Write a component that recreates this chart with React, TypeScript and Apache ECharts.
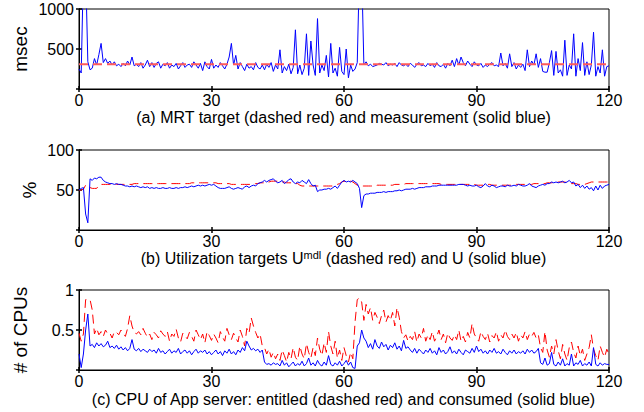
import React, { useEffect, useRef } from "react";
import * as echarts from "echarts";

// time axis: samples every 0.5 units from 0 to 120
const timeStep = 0.5;

// (a) MRT
const mrtTargetX = [0, 120];
const mrtTarget = [310, 310];
const mrtMeasured = [
  250, 200, 1500, 1500, 340, 240, 260, 380, 300, 430,
  570, 330, 380, 320, 350, 300, 340, 290, 310, 280,
  320, 290, 350, 300, 400, 290, 310, 280, 330, 260,
  300, 360, 280, 330, 270, 320, 340, 260, 310, 290,
  330, 260, 300, 280, 320, 250, 290, 330, 270, 300,
  310, 270, 340, 300, 260, 320, 230, 340, 280, 250,
  370, 260, 300, 270, 330, 290, 250, 310, 400, 570,
  300, 420, 250, 330, 280, 230, 310, 260, 280, 240,
  330, 270, 250, 300, 240, 310, 270, 330, 220, 300,
  250, 490, 200, 280, 230, 310, 190, 270, 740, 190,
  300, 180, 260, 690, 170, 600, 300, 170, 880, 200,
  300, 230, 420, 150, 570, 200, 260, 160, 520, 220,
  180, 500, 140, 300, 220, 250, 330, 1500, 1500, 300,
  340, 290, 310, 280, 290, 300, 320, 310, 300, 330,
  290, 310, 300, 320, 280, 330, 300, 290, 310, 280,
  320, 300, 270, 310, 330, 290, 300, 280, 320, 290,
  310, 270, 330, 290, 280, 310, 260, 320, 290, 360,
  280, 380, 300, 400, 330, 290, 350, 310, 280, 340,
  300, 290, 320, 270, 300, 280, 310, 330, 290, 300,
  280, 450, 290, 320, 260, 440, 280, 330, 250, 300,
  270, 310, 230, 490, 280, 350, 300, 440, 270, 380,
  220, 210, 210, 330, 480, 170, 470, 200, 240, 160,
  610, 170, 300, 250, 690, 160, 380, 230, 580, 170,
  340, 180, 300, 710, 160, 280, 200, 490, 160, 280,
  290,
];

// (b) Utilization
const utilTarget = [
  50, 50, 51, 56, 56, 53, 52, 52, 52, 56,
  57, 57, 57, 57, 57, 57, 57, 57, 57, 57,
  57, 57, 57, 57, 57, 58, 58, 58, 58, 58,
  58, 58, 58, 58, 58, 58, 58, 58, 58, 58,
  58, 58, 58, 58, 58, 58, 58, 58, 58, 58,
  58, 59, 59, 59, 59, 59, 59, 59, 59, 59,
  59, 59, 59, 58, 58, 58, 58, 58, 58, 57,
  57, 57, 57, 57, 57, 57, 57, 57, 57, 57,
  58, 58, 59, 59, 59, 60, 60, 61, 61, 61,
  61, 60, 60, 60, 59, 59, 59, 58, 58, 58,
  56, 55, 55, 55, 55, 55, 55, 55, 55, 55,
  55, 55, 55, 55, 55, 55, 56, 57, 58, 60,
  61, 61, 61, 61, 60, 58, 56, 55, 55, 55,
  55, 55, 55, 55, 55, 56, 56, 56, 56, 56,
  56, 56, 56, 57, 57, 57, 57, 57, 58, 58,
  58, 58, 58, 58, 58, 58, 58, 58, 58, 58,
  58, 58, 58, 58, 57, 57, 57, 57, 57, 57,
  57, 57, 57, 57, 57, 57, 57, 57, 57, 57,
  56, 56, 56, 56, 57, 57, 57, 56, 56, 56,
  56, 56, 56, 56, 56, 56, 56, 56, 57, 57,
  57, 57, 57, 57, 57, 57, 58, 58, 58, 58,
  58, 58, 59, 59, 59, 59, 59, 60, 60, 60,
  60, 59, 59, 58, 58, 58, 57, 57, 57, 57,
  58, 59, 60, 60, 60, 60, 60, 60, 60, 60,
  60,
];
const utilMeasured = [
  50, 52, 53, 20, 9, 64, 62, 65, 64, 66,
  66, 62, 60, 59, 58, 58, 57, 58, 57, 57,
  56, 55, 55, 54, 55, 54, 55, 54, 53, 54,
  53, 54, 52, 53, 52, 53, 52, 52, 53, 52,
  52, 53, 52, 52, 53, 52, 53, 53, 54, 53,
  54, 55, 54, 55, 56, 55, 56, 55, 56, 57,
  56, 57, 55, 53, 52, 52, 52, 53, 54, 52,
  51, 52, 53, 52, 51, 54, 55, 53, 55, 56,
  55, 58, 59, 60, 62, 60, 62, 63, 64, 61,
  59, 60, 62, 58, 60, 63, 64, 60, 58, 60,
  59, 62, 60, 58, 63, 58, 55, 56, 48, 50,
  50, 51, 51, 52, 51, 53, 55, 52, 56, 60,
  62, 60, 61, 60, 62, 60, 58, 52, 28, 43,
  45, 45, 46, 46, 46, 47, 47, 47, 48, 47,
  48, 48, 48, 49, 49, 50, 49, 50, 51, 51,
  51, 52, 51, 52, 53, 53, 53, 54, 54, 54,
  55, 55, 55, 56, 56, 56, 56, 56, 56, 56,
  56, 56, 57, 57, 57, 56, 55, 56, 55, 55,
  56, 54, 53, 55, 58, 55, 54, 56, 55, 53,
  54, 55, 55, 54, 56, 55, 55, 56, 55, 57,
  56, 55, 55, 56, 58, 55, 54, 53, 55, 56,
  57, 56, 58, 58, 60, 59, 60, 59, 60, 61,
  59, 60, 62, 59, 60, 55, 57, 53, 56, 52,
  55, 51, 53, 49, 55, 50, 56, 52, 55, 56,
  57,
];

// (c) CPU
const cpuEntitled = [
  0.46, 0.36, 0.45, 0.88, 0.88, 0.88, 0.75, 0.45, 0.52, 0.44,
  0.48, 0.42, 0.50, 0.45, 0.46, 0.40, 0.48, 0.47, 0.44, 0.50,
  0.46, 0.42, 0.52, 0.68, 0.55, 0.47, 0.45, 0.48, 0.44, 0.52,
  0.46, 0.41, 0.45, 0.38, 0.47, 0.44, 0.40, 0.49, 0.45, 0.42,
  0.48, 0.36, 0.45, 0.42, 0.51, 0.40, 0.35, 0.46, 0.43, 0.39,
  0.47, 0.42, 0.36, 0.50, 0.44, 0.38, 0.45, 0.34, 0.48, 0.43,
  0.37, 0.45, 0.40, 0.34, 0.48, 0.41, 0.36, 0.52, 0.44, 0.38,
  0.46, 0.40, 0.35, 0.50, 0.42, 0.30, 0.52, 0.46, 0.65, 0.55,
  0.47, 0.40, 0.45, 0.30, 0.28, 0.20, 0.26, 0.16, 0.22, 0.14,
  0.20, 0.12, 0.25, 0.18, 0.10, 0.22, 0.14, 0.28, 0.16, 0.12,
  0.30, 0.20, 0.14, 0.33, 0.22, 0.15, 0.28, 0.18, 0.40, 0.26,
  0.18, 0.34, 0.22, 0.48, 0.30, 0.20, 0.36, 0.15, 0.25, 0.12,
  0.28, 0.18, 0.10, 0.22, 0.14, 0.60, 0.88, 0.90, 0.85, 0.62,
  0.82, 0.70, 0.78, 0.62, 0.72, 0.66, 0.58, 0.68, 0.75, 0.60,
  0.68, 0.62, 0.72, 0.55, 0.78, 0.66, 0.48, 0.40, 0.44, 0.36,
  0.42, 0.38, 0.48, 0.35, 0.45, 0.40, 0.52, 0.36, 0.44, 0.38,
  0.48, 0.36, 0.42, 0.50, 0.38, 0.45, 0.34, 0.46, 0.40, 0.37,
  0.44, 0.38, 0.50, 0.36, 0.42, 0.35, 0.47, 0.40, 0.58, 0.45,
  0.40, 0.36, 0.48, 0.42, 0.38, 0.46, 0.35, 0.43, 0.40, 0.48,
  0.36, 0.44, 0.40, 0.50, 0.42, 0.38, 0.45, 0.40, 0.47, 0.36,
  0.44, 0.40, 0.48, 0.38, 0.45, 0.42, 0.47, 0.40, 0.44, 0.28,
  0.22, 0.48, 0.25, 0.16, 0.30, 0.20, 0.38, 0.24, 0.14, 0.32,
  0.20, 0.12, 0.28, 0.35, 0.22, 0.15, 0.30, 0.18, 0.26, 0.12,
  0.20, 0.28, 0.44, 0.26, 0.18, 0.12, 0.30, 0.22, 0.16, 0.26,
  0.20,
];
const cpuConsumed = [
  0.20, 0.03, 0.20, 0.50, 0.70, 0.30, 0.32, 0.28, 0.34, 0.30,
  0.33, 0.29, 0.31, 0.36, 0.28, 0.30, 0.27, 0.31, 0.26, 0.29,
  0.25, 0.28, 0.24, 0.27, 0.38, 0.26, 0.24, 0.27, 0.23, 0.26,
  0.24, 0.22, 0.26, 0.23, 0.25, 0.21, 0.27, 0.22, 0.24, 0.20,
  0.23, 0.26, 0.21, 0.24, 0.22, 0.27, 0.20, 0.23, 0.25, 0.21,
  0.24, 0.19, 0.23, 0.26, 0.21, 0.24, 0.22, 0.25, 0.20, 0.23,
  0.19, 0.22, 0.25, 0.20, 0.23, 0.18, 0.24, 0.21, 0.26, 0.20,
  0.23, 0.19, 0.25, 0.22, 0.28, 0.24, 0.36, 0.30, 0.25, 0.27,
  0.24, 0.26, 0.22, 0.25, 0.10, 0.07, 0.08, 0.06, 0.09, 0.07,
  0.08, 0.05, 0.12, 0.06, 0.09, 0.04, 0.07, 0.10, 0.05, 0.08,
  0.06, 0.11, 0.05, 0.08, 0.15, 0.06, 0.09, 0.05, 0.12, 0.07,
  0.05, 0.10, 0.06, 0.18, 0.07, 0.05, 0.09, 0.06, 0.11, 0.05,
  0.08, 0.12, 0.06, 0.10, 0.03, 0.02, 0.30, 0.34, 0.50, 0.40,
  0.36, 0.28, 0.33, 0.26, 0.38, 0.30, 0.27, 0.35, 0.29, 0.32,
  0.25, 0.31, 0.28, 0.34, 0.26, 0.30, 0.24, 0.37, 0.27, 0.29,
  0.25, 0.22, 0.27, 0.21, 0.26, 0.23, 0.20, 0.25, 0.22, 0.27,
  0.21, 0.24, 0.19, 0.28, 0.22, 0.25, 0.20, 0.23, 0.29, 0.21,
  0.24, 0.20, 0.26, 0.22, 0.19, 0.25, 0.23, 0.21, 0.27, 0.22,
  0.30, 0.23, 0.26, 0.21, 0.24, 0.20, 0.25, 0.22, 0.27, 0.21,
  0.23, 0.20, 0.26, 0.22, 0.19, 0.24, 0.21, 0.25, 0.20, 0.23,
  0.21, 0.24, 0.20, 0.26, 0.22, 0.25, 0.21, 0.23, 0.27, 0.09,
  0.07, 0.15, 0.06, 0.08, 0.22, 0.07, 0.05, 0.10, 0.06, 0.14,
  0.05, 0.08, 0.06, 0.20, 0.05, 0.09, 0.07, 0.12, 0.05, 0.08,
  0.06, 0.10, 0.05, 0.28, 0.07, 0.05, 0.09, 0.06, 0.08, 0.07,
  0.07,
];

const panelTitles = [
  "(a) MRT target (dashed red) and measurement (solid blue)",
  "(b) Utilization targets U{sup|mdl} (dashed red) and U (solid blue)",
  "(c) CPU of App server: entitled (dashed red) and consumed (solid blue)",
];
const yNames = ["msec", "%", "# of CPUs"];
const yMax = [1000, 100, 1];
const yInterval = [500, 50, 0.5];

const FONT = "Liberation Sans";

const toPairs = (vals: number[]) => vals.map((v, i) => [i * timeStep, v]);

export default function App() {
  const ref = useRef<HTMLDivElement>(null);
  useEffect(() => {
    if (!ref.current) return;
    const chart = echarts.init(ref.current, undefined, { renderer: "svg" });
    const tops = [9, 150, 290];
    const gridH = 80;
    const grids = tops.map((t) => ({
      left: 79,
      right: 35,
      top: t,
      height: gridH,
      show: true,
      borderColor: "#000",
      borderWidth: 1,
      backgroundColor: "transparent",
    }));
    const tick = { show: true, inside: true, length: 3, lineStyle: { color: "#000", width: 1.5 } };
    const line = { show: true, lineStyle: { color: "#000", width: 1 } };
    const xAxes: any[] = [];
    const yAxes: any[] = [];
    tops.forEach((_, g) => {
      xAxes.push({
        type: "value",
        gridIndex: g,
        min: 0,
        max: 120,
        interval: 30,
        position: "bottom",
        axisLine: line,
        axisTick: tick,
        axisLabel: { show: true, color: "#000", fontSize: 16, fontFamily: FONT, margin: 3 },
        splitLine: { show: false },
      });
      xAxes.push({
        type: "value",
        gridIndex: g,
        min: 0,
        max: 120,
        interval: 30,
        position: "top",
        axisLine: line,
        axisTick: tick,
        axisLabel: { show: false },
        splitLine: { show: false },
      });
      yAxes.push({
        type: "value",
        gridIndex: g,
        min: 0,
        max: yMax[g],
        interval: yInterval[g],
        position: "left",
        axisLine: line,
        axisTick: tick,
        axisLabel: {
          show: true,
          showMinLabel: false,
          color: "#000",
          fontSize: 16,
          fontFamily: FONT,
          margin: 5,
          formatter: (v: number) => String(v),
        },
        splitLine: { show: false },
      });
      yAxes.push({
        type: "value",
        gridIndex: g,
        min: 0,
        max: yMax[g],
        interval: yInterval[g],
        position: "right",
        axisLine: line,
        axisTick: tick,
        axisLabel: { show: false },
        splitLine: { show: false },
      });
    });

    const dashed = [9, 5];
    const series: any[] = [
      {
        type: "line",
        xAxisIndex: 0,
        yAxisIndex: 0,
        data: toPairs(mrtMeasured),
        showSymbol: false,
        lineStyle: { color: "#0000ff", width: 1 },
        z: 2,
      },
      {
        type: "line",
        xAxisIndex: 0,
        yAxisIndex: 0,
        data: mrtTargetX.map((x, i) => [x, mrtTarget[i]]),
        showSymbol: false,
        lineStyle: { color: "#ff5a5a", width: 2, type: dashed },
        z: 3,
      },
      {
        type: "line",
        xAxisIndex: 2,
        yAxisIndex: 2,
        data: toPairs(utilTarget),
        showSymbol: false,
        lineStyle: { color: "#ff0000", width: 1, type: dashed },
        z: 2,
      },
      {
        type: "line",
        xAxisIndex: 2,
        yAxisIndex: 2,
        data: toPairs(utilMeasured),
        showSymbol: false,
        lineStyle: { color: "#0000ff", width: 1 },
        z: 3,
      },
      {
        type: "line",
        xAxisIndex: 4,
        yAxisIndex: 4,
        data: toPairs(cpuEntitled),
        showSymbol: false,
        lineStyle: { color: "#ff0000", width: 1, type: dashed },
        z: 2,
      },
      {
        type: "line",
        xAxisIndex: 4,
        yAxisIndex: 4,
        data: toPairs(cpuConsumed),
        showSymbol: false,
        lineStyle: { color: "#0000ff", width: 1 },
        z: 3,
      },
    ];

    const titleTops = [108, 249, 390];
    const titles = panelTitles.map((t, i) => ({
      text: t,
      left: 343.5,
      top: titleTops[i],
      textAlign: "center",
      padding: 0,
      textStyle: {
        color: "#000",
        fontSize: 16,
        fontWeight: "normal",
        fontFamily: FONT,
        lineHeight: 18,
        rich: {
          sup: { fontSize: 11, lineHeight: 10, verticalAlign: "top", color: "#000", fontFamily: FONT },
        },
      },
    }));

    const nameX = [20, 29, 20];
    const graphic = yNames.map((n, i) => ({
      type: "text",
      x: nameX[i],
      y: tops[i] + gridH / 2,
      rotation: Math.PI / 2,
      style: {
        text: n,
        fill: "#000",
        fontSize: 19,
        fontFamily: FONT,
        textAlign: "center",
        textVerticalAlign: "middle",
      },
    }));

    chart.setOption({
      animation: false,
      backgroundColor: "#fff",
      title: titles,
      grid: grids,
      xAxis: xAxes,
      yAxis: yAxes,
      series,
      graphic,
    });
    return () => chart.dispose();
  }, []);
  return (
    <div
      ref={ref}
      style={{ position: "fixed", left: 0, top: 0, width: 644, height: 412 }}
    />
  );
}
